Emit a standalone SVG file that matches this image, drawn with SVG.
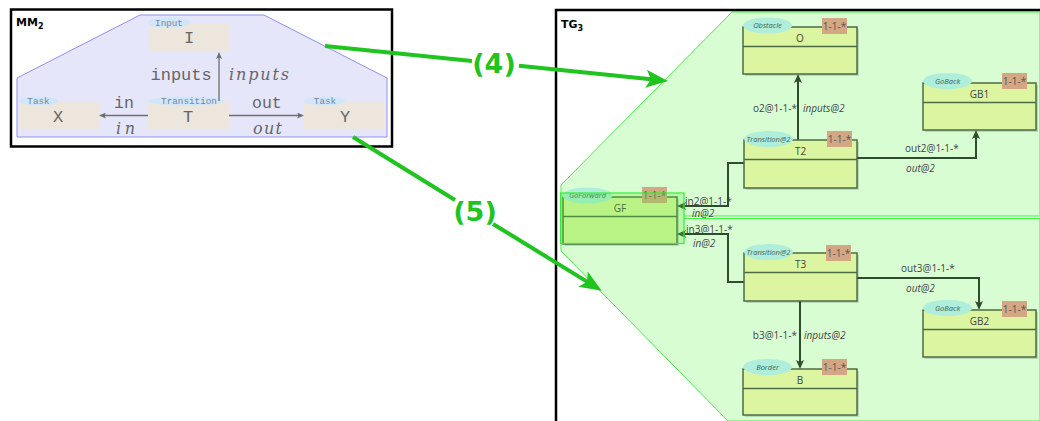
<svg xmlns="http://www.w3.org/2000/svg" width="1040" height="421" viewBox="0 0 1040 421">
<style>
.frame{fill:none;stroke:#000;stroke-width:2.5}
.ftitle{font-family:"DejaVu Sans",sans-serif;font-weight:bold;font-size:11px;fill:#000}
.mono{font-family:"Liberation Mono","DejaVu Sans Mono",monospace;fill:#666}
.mtag{font-family:"Liberation Mono","DejaVu Sans Mono",monospace;font-size:9.3px;fill:#7b8599;text-anchor:middle}
.math{font-family:"DejaVu Serif","Liberation Serif",serif;font-style:italic;font-size:16px;fill:#666}
.bnode{fill:#ece6dc}
.btag{fill:#d0e6fa}
.gl{stroke:#6e6e6e;stroke-width:1.3;fill:none}
.shadow{fill:#000;opacity:0.14}
.cls{fill:#dbf5a0;stroke:#4d6b45;stroke-width:1.5}
.div{stroke:#4d6b45;stroke-width:1.5}
.ct{font-family:"Open Sans",sans-serif;font-size:10px;fill:#444;text-anchor:middle}
.tag{fill:#aeeedb}
.tagt{font-family:"Open Sans",sans-serif;font-size:7.5px;font-style:italic;fill:#3f5f55;text-anchor:middle}
.mult{fill:#d3a684}
.multt{font-family:"Open Sans",sans-serif;font-size:10px;fill:#555;text-anchor:middle}
.conn{stroke:#2e4d2e;stroke-width:2;fill:none}
.lbl{font-family:"Open Sans",sans-serif;font-size:10px;fill:#444}
.lbli{font-family:"Open Sans",sans-serif;font-size:10px;font-style:italic;fill:#444}
.big{stroke:#1fc41f;stroke-width:4;fill:none}
.bigt{font-family:"DejaVu Sans",sans-serif;font-weight:bold;font-size:27px;fill:#1fc41f;text-anchor:middle}
</style>
<defs>
<marker id="ga" viewBox="0 0 22 18" refX="10" refY="9" markerWidth="22" markerHeight="18" markerUnits="userSpaceOnUse" orient="auto"><path d="M0,0 L22,9 L0,18 L5,9 Z" fill="#1fc41f"/></marker>
<marker id="da" viewBox="0 0 9 8" refX="5" refY="4" markerWidth="9" markerHeight="8" markerUnits="userSpaceOnUse" orient="auto"><path d="M0,0 L9,4 L0,8 L2,4 Z" fill="#2e4d2e"/></marker>
<marker id="ma" viewBox="0 0 7 6" refX="4" refY="3" markerWidth="7" markerHeight="6" markerUnits="userSpaceOnUse" orient="auto"><path d="M0,0 L7,3 L0,6 L1.5,3 Z" fill="#6e6e6e"/></marker>
</defs>
<rect width="1040" height="421" fill="#fff"/>

<!-- MM2 frame -->
<g id="MM2">
<rect class="frame" x="11" y="9.5" width="381" height="137"/>
<polygon points="17,137 17,78 140,15 264,15 387,78 387,137" fill="#e6e6fa" stroke="#8f8ff5" stroke-width="1"/>
<text class="ftitle" x="16" y="26">MM<tspan font-size="8" dy="3">2</tspan></text>
</g>

<!-- TG3 frame -->
<g id="TG3">
<polygon points="732,12 1040,12 1040,421 728,421 561,251 561,185" fill="#d8fdd3" stroke="#44ee44" stroke-width="1"/>
<rect x="684" y="216" width="356" height="2.5" fill="#effff0"/>
<line x1="684" y1="216" x2="1040" y2="216" stroke="#44ee44" stroke-width="1"/>
<line x1="684" y1="218.5" x2="1040" y2="218.5" stroke="#44ee44" stroke-width="1"/>
<path class="frame" d="M556,421 V10 H1040"/>
<text class="ftitle" x="561" y="28">TG<tspan font-size="8" dy="3">3</tspan></text>
</g>

<!-- left nodes -->
<g id="I">
<rect class="bnode" x="149" y="23" width="80" height="28"/>
<ellipse class="btag" cx="169" cy="22.5" rx="21" ry="5.5"/>
<text class="mtag" x="169" y="25.5">Input</text>
<text class="mono" x="189" y="43" font-size="17" text-anchor="middle">I</text>
</g>
<g id="X">
<rect class="bnode" x="19" y="101" width="80" height="28"/>
<ellipse class="btag" cx="38.5" cy="101" rx="19.5" ry="4.5"/>
<text class="mtag" x="38.5" y="104">Task</text>
<text class="mono" x="58" y="122" font-size="17" text-anchor="middle">X</text>
</g>
<g id="T">
<rect class="bnode" x="148" y="101" width="81" height="28"/>
<ellipse class="btag" cx="186" cy="101" rx="38" ry="4.5"/>
<text class="mtag" x="189" y="104">Transition</text>
<text class="mono" x="188" y="122" font-size="17" text-anchor="middle">T</text>
</g>
<g id="Y">
<rect class="bnode" x="304" y="101" width="81" height="28"/>
<ellipse class="btag" cx="324.5" cy="101" rx="20.5" ry="4.5"/>
<text class="mtag" x="325" y="104">Task</text>
<text class="mono" x="345" y="122" font-size="17" text-anchor="middle">Y</text>
</g>

<!-- connectors -->
<g id="connectors">
<path class="gl" d="M148,115.5 L102,115.5" marker-end="url(#ma)"/>
<path class="gl" d="M229,115.5 L301,115.5" marker-end="url(#ma)"/>
<path class="gl" d="M219,101 L219,55" marker-end="url(#ma)"/>
<text class="mono" x="150.5" y="80" font-size="17">inputs</text>
<text class="math" x="229" y="80" textLength="60" lengthAdjust="spacing">inputs</text>
<text class="mono" x="114" y="108" font-size="16.5">in</text>
<text class="math" x="116" y="134" textLength="19" lengthAdjust="spacing">in</text>
<text class="mono" x="252" y="108" font-size="16.5">out</text>
<text class="math" x="253" y="134" textLength="29" lengthAdjust="spacing">out</text>

<path class="conn" d="M798,140 V78" marker-end="url(#da)"/>
<path class="conn" d="M857,158 H976 V134" marker-end="url(#da)"/>
<path class="conn" d="M744,163 H728 V206 H681" marker-end="url(#da)"/>
<path class="conn" d="M744,282 H728 V234 H681" marker-end="url(#da)"/>
<path class="conn" d="M857,278 H979 V306" marker-end="url(#da)"/>
<path class="conn" d="M800,301 V365" marker-end="url(#da)"/>
<text class="lbl" x="797" y="112" text-anchor="end">o2@1-1-*</text>
<text class="lbli" x="803" y="112">inputs@2</text>
<text class="lbl" x="905" y="152">out2@1-1-*</text>
<text class="lbli" x="906" y="172">out@2</text>
<text class="lbl" x="685" y="204.5">in2@1-1-*</text>
<text class="lbli" x="692" y="217">in@2</text>
<text class="lbl" x="686" y="233">in3@1-1-*</text>
<text class="lbli" x="693" y="247">in@2</text>
<text class="lbl" x="901" y="272">out3@1-1-*</text>
<text class="lbli" x="906" y="292">out@2</text>
<text class="lbl" x="797" y="339" text-anchor="end">b3@1-1-*</text>
<text class="lbli" x="804" y="339">inputs@2</text>

<path class="big" d="M325,46 L472,61"/>
<path class="big" d="M519,65.8 L656,79.8" marker-end="url(#ga)"/>
<text class="bigt" x="494" y="73">(4)</text>
<path class="big" d="M353,137 L455,200"/>
<path class="big" d="M493,224 L591.5,284.4" marker-end="url(#ga)"/>
<text class="bigt" x="475" y="221">(5)</text>
</g>

<!-- right nodes -->
<g id="O">
<rect class="shadow" x="745" y="29" width="114" height="47"/>
<rect class="cls" x="743" y="27" width="114" height="47"/>
<line class="div" x1="743" y1="46.5" x2="857" y2="46.5"/>
<text class="ct" x="800" y="42">O</text>
<ellipse class="tag" cx="767.5" cy="25.5" rx="24.5" ry="8"/>
<text class="tagt" x="767.5" y="28">Obstacle</text>
<rect class="mult" x="822" y="18" width="25" height="16"/>
<text class="multt" x="834.5" y="29.5">1-1-*</text>
</g>
<g id="T2">
<rect class="shadow" x="746" y="142" width="113" height="48"/>
<rect class="cls" x="744" y="140" width="113" height="48"/>
<line class="div" x1="744" y1="159.5" x2="857" y2="159.5"/>
<text class="ct" x="800.5" y="155">T2</text>
<ellipse class="tag" cx="768.5" cy="139" rx="24.5" ry="8"/>
<text class="tagt" x="768.5" y="141.5">Transition@2</text>
<rect class="mult" x="827" y="131" width="25" height="16"/>
<text class="multt" x="839.5" y="142.5">1-1-*</text>
</g>
<g id="GB1">
<rect class="shadow" x="925" y="85" width="113" height="47"/>
<rect class="cls" x="923" y="83" width="113" height="47"/>
<line class="div" x1="923" y1="102.5" x2="1036" y2="102.5"/>
<text class="ct" x="979.5" y="98">GB1</text>
<ellipse class="tag" cx="947.5" cy="81" rx="24.5" ry="8"/>
<text class="tagt" x="947.5" y="83.5">GoBack</text>
<rect class="mult" x="1002" y="73" width="25" height="16"/>
<text class="multt" x="1014.5" y="84.5">1-1-*</text>
</g>
<g id="GF">
<rect class="shadow" x="565" y="199" width="114" height="47"/>
<rect class="cls" x="563" y="197" width="114" height="47"/>
<line class="div" x1="563" y1="216.5" x2="677" y2="216.5"/>
<text class="ct" x="620" y="212">GF</text>
<ellipse class="tag" cx="587.5" cy="195.5" rx="25" ry="8"/>
<text class="tagt" x="587.5" y="198">GoForward</text>
<rect class="mult" x="642" y="187" width="25" height="16"/>
<text class="multt" x="654.5" y="198.5">1-1-*</text>
<rect x="560.5" y="193" width="123.5" height="50.5" fill="#55ee33" fill-opacity="0.25" stroke="#33ee33" stroke-width="1.2"/>
</g>
<g id="T3">
<rect class="shadow" x="746" y="255" width="113" height="48"/>
<rect class="cls" x="744" y="253" width="113" height="48"/>
<line class="div" x1="744" y1="272.5" x2="857" y2="272.5"/>
<text class="ct" x="800.5" y="268">T3</text>
<ellipse class="tag" cx="768.5" cy="252" rx="24.5" ry="8"/>
<text class="tagt" x="768.5" y="254.5">Transition@2</text>
<rect class="mult" x="826" y="245" width="25" height="16"/>
<text class="multt" x="838.5" y="256.5">1-1-*</text>
</g>
<g id="GB2">
<rect class="shadow" x="925" y="312" width="113" height="47"/>
<rect class="cls" x="923" y="310" width="113" height="47"/>
<line class="div" x1="923" y1="329.5" x2="1036" y2="329.5"/>
<text class="ct" x="979.5" y="325">GB2</text>
<ellipse class="tag" cx="947.5" cy="308" rx="24.5" ry="8"/>
<text class="tagt" x="947.5" y="310.5">GoBack</text>
<rect class="mult" x="1002" y="301" width="25" height="16"/>
<text class="multt" x="1014.5" y="312.5">1-1-*</text>
</g>
<g id="B">
<rect class="shadow" x="745" y="371" width="114" height="46"/>
<rect class="cls" x="743" y="369" width="114" height="46"/>
<line class="div" x1="743" y1="388.5" x2="857" y2="388.5"/>
<text class="ct" x="800" y="384">B</text>
<ellipse class="tag" cx="767.5" cy="367" rx="24.5" ry="8"/>
<text class="tagt" x="767.5" y="369.5">Border</text>
<rect class="mult" x="822" y="359" width="25" height="16"/>
<text class="multt" x="834.5" y="370.5">1-1-*</text>
</g>
</svg>
